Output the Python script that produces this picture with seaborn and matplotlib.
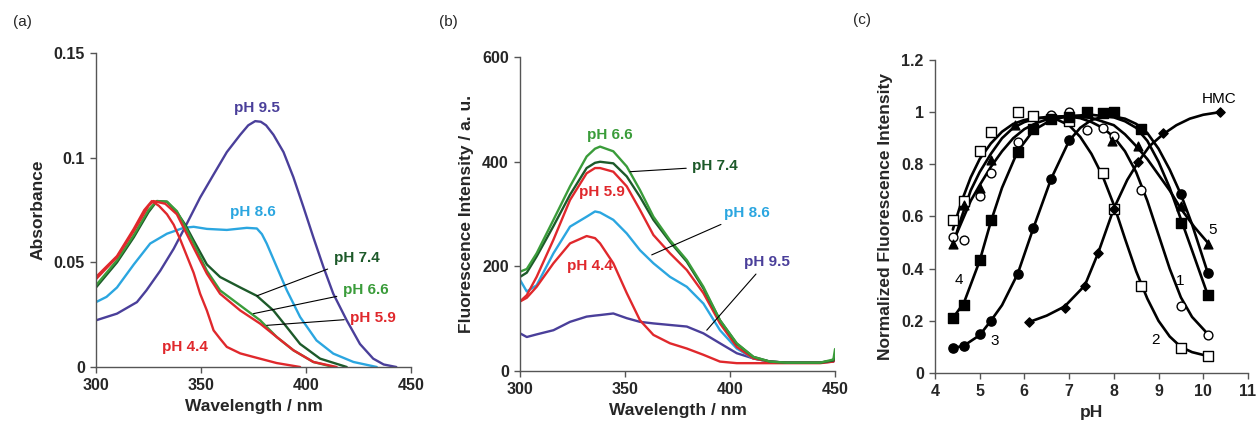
import matplotlib
matplotlib.use("Agg")
import matplotlib.pyplot as plt
import seaborn as sns

# ---------------- (a) absorbance spectra ----------------
abs_95_wl = [300, 310, 319.5, 324, 330.6, 337, 343, 349.6, 356, 362.3, 368.7, 372.5, 375.8, 378.5, 381, 384.5, 389.3, 394, 398.8, 403.5, 408.3, 413, 419.4, 425.7, 432, 437, 443]
abs_95 = [0.0223, 0.0255, 0.031, 0.0366, 0.046, 0.0565, 0.068, 0.081, 0.092, 0.1027, 0.111, 0.1155, 0.1175, 0.1172, 0.1155, 0.111, 0.1027, 0.0907, 0.0764, 0.062, 0.0478, 0.035, 0.0223, 0.011, 0.004, 0.0012, 0.0]

abs_86_wl = [300, 305, 310, 318, 325.8, 333.8, 341.7, 346.5, 352.8, 362.3, 371.8, 376.6, 379, 381.3, 386, 390.9, 397.2, 405, 413, 422.6, 433.7]
abs_86 = [0.031, 0.0335, 0.038, 0.049, 0.059, 0.0637, 0.0665, 0.067, 0.066, 0.0655, 0.0665, 0.0662, 0.0635, 0.059, 0.048, 0.0366, 0.0239, 0.0127, 0.0064, 0.0024, 0.0]

abs_74_wl = [300, 310, 318, 325, 329, 333.8, 338.5, 342.5, 346.5, 352.8, 359.1, 368.7, 376.6, 384.5, 390.9, 397.2, 406.7, 419.4]
abs_74 = [0.038, 0.05, 0.062, 0.074, 0.0793, 0.079, 0.074, 0.068, 0.0605, 0.049, 0.043, 0.038, 0.034, 0.027, 0.019, 0.011, 0.004, 0.0]

abs_66_wl = [300, 310, 318, 325, 329, 333.8, 338.5, 342.5, 346.5, 352.8, 359.1, 368.7, 378.2, 386.1, 394, 403.5, 413]
abs_66 = [0.039, 0.051, 0.063, 0.075, 0.0793, 0.079, 0.0745, 0.067, 0.059, 0.046, 0.0366, 0.0294, 0.0223, 0.0143, 0.008, 0.0024, 0.0]

abs_59_wl = [300, 310, 318, 325, 327.4, 333, 338.5, 342.5, 346.5, 352.8, 359.1, 368.7, 378.2, 386.1, 394, 403.5, 414.6]
abs_59 = [0.042, 0.0525, 0.065, 0.077, 0.0793, 0.078, 0.073, 0.065, 0.057, 0.0446, 0.035, 0.027, 0.0207, 0.0143, 0.008, 0.0024, 0.0]

abs_44_wl = [300, 310, 318, 323, 326.6, 330, 333.8, 337, 340.1, 343.3, 346.5, 349.6, 352.8, 356, 359.1, 362.3, 368.7, 375, 386, 397.2]
abs_44 = [0.043, 0.053, 0.066, 0.075, 0.0793, 0.077, 0.073, 0.068, 0.061, 0.053, 0.045, 0.035, 0.027, 0.0175, 0.0135, 0.0096, 0.0065, 0.0048, 0.0019, 0.0]

# ---------------- (b) fluorescence spectra ----------------
fl_wl = [300, 303.2, 307.9, 315.9, 323.8, 331.7, 335.7, 338.1, 344.4, 350.8, 357.1, 363.5, 371.4, 379.4, 387.3, 395.2, 403.2, 411.1, 419.0, 427.0, 442.9, 449.2, 450]
fl_66 = [190, 195, 225, 289, 353, 410, 425, 429, 420, 391, 346, 295, 250, 212, 161, 97, 53, 27, 18, 16, 16, 22, 42]
fl_74 = [180, 188, 219, 277, 337, 388, 398, 400, 397, 372, 333, 289, 247, 209, 158, 97, 52, 27, 18, 16, 16, 20, 30]
fl_59 = [133, 145, 180, 251, 327, 378, 388, 388, 381, 353, 308, 260, 225, 193, 149, 91, 46, 24, 18, 16, 16, 20, 30]
fl_86 = [174, 152, 164, 225, 276, 295, 305, 303, 289, 263, 231, 206, 180, 161, 129, 78, 43, 24, 18, 16, 16, 20, 28]
fl_44 = [133, 140, 161, 206, 244, 258, 254, 244, 206, 149, 97, 69, 53, 43, 31, 18, 15, 15, 15, 15, 15, 18, 25]
fl_95 = [72, 65, 70, 78, 94, 104, 106, 107, 110, 101, 94, 91, 88, 85, 72, 53, 34, 24, 18, 16, 16, 18, 25]

# ---------------- (c) pH profiles ----------------
s1_ph = [4.4, 4.65, 5.0, 5.25, 5.85, 6.6, 7.0, 7.4, 7.75, 8.0, 8.6, 9.5, 10.1]
s1_y = [0.52, 0.51, 0.68, 0.765, 0.885, 0.99, 1.0, 0.93, 0.94, 0.91, 0.70, 0.255, 0.145]
s2_ph = [4.4, 4.65, 5.0, 5.25, 5.85, 6.2, 7.0, 7.75, 8.0, 8.6, 9.5, 10.1]
s2_y = [0.585, 0.66, 0.85, 0.925, 1.0, 0.985, 0.965, 0.765, 0.63, 0.335, 0.095, 0.065]
s3_ph = [4.4, 4.65, 5.0, 5.25, 5.85, 6.2, 6.6, 7.0, 9.5, 10.1]
s3_y = [0.095, 0.105, 0.148, 0.2, 0.378, 0.555, 0.745, 0.892, 0.685, 0.385]
s4_ph = [4.4, 4.65, 5.0, 5.25, 5.85, 6.2, 6.6, 7.0, 7.4, 7.75, 8.0, 8.6, 9.5, 10.1]
s4_y = [0.21, 0.26, 0.435, 0.588, 0.848, 0.935, 0.972, 0.983, 1.0, 0.995, 1.0, 0.935, 0.575, 0.30]
s5_ph = [4.4, 4.65, 5.0, 5.25, 5.8, 7.95, 8.55, 9.5, 10.1]
s5_y = [0.495, 0.645, 0.71, 0.815, 0.95, 0.89, 0.87, 0.64, 0.495]
hmc_ph = [6.1, 6.9, 7.35, 7.65, 8.0, 8.55, 9.1, 10.37]
hmc_y = [0.195, 0.25, 0.335, 0.46, 0.63, 0.81, 0.92, 1.0]

# fitted curves as drawn in the figure
c1_ph = [4.4, 4.6, 4.8, 5.0, 5.25, 5.5, 5.75, 6.0, 6.25, 6.5, 6.75, 7.0, 7.25, 7.5, 7.75, 8.0, 8.25, 8.5, 8.75, 9.0, 9.25, 9.5, 9.75, 10.1]
c1_y = [0.50, 0.58, 0.66, 0.72, 0.79, 0.85, 0.90, 0.935, 0.957, 0.972, 0.981, 0.983, 0.977, 0.962, 0.94, 0.905, 0.85, 0.77, 0.66, 0.53, 0.4, 0.29, 0.215, 0.15]
c2_ph = [4.4, 4.6, 4.8, 5.0, 5.25, 5.5, 5.75, 6.0, 6.25, 6.5, 6.75, 7.0, 7.25, 7.5, 7.75, 8.0, 8.25, 8.5, 8.75, 9.0, 9.25, 9.5, 9.75, 10.1]
c2_y = [0.55, 0.66, 0.75, 0.82, 0.88, 0.925, 0.955, 0.97, 0.978, 0.978, 0.97, 0.95, 0.905, 0.84, 0.755, 0.645, 0.515, 0.39, 0.285, 0.2, 0.14, 0.1, 0.08, 0.065]
c3_ph = [4.4, 4.65, 5.0, 5.25, 5.5, 5.85, 6.2, 6.6, 7.0, 7.25, 7.5, 7.75, 8.0, 8.25, 8.5, 8.75, 9.0, 9.25, 9.5, 9.75, 10.1]
c3_y = [0.095, 0.105, 0.145, 0.2, 0.26, 0.38, 0.555, 0.745, 0.89, 0.94, 0.97, 0.982, 0.983, 0.975, 0.955, 0.92, 0.86, 0.78, 0.685, 0.57, 0.385]
c4_ph = [4.4, 4.65, 5.0, 5.25, 5.5, 5.85, 6.2, 6.6, 7.0, 7.5, 8.0, 8.25, 8.5, 8.75, 9.0, 9.25, 9.5, 9.75, 10.1]
c4_y = [0.21, 0.27, 0.43, 0.58, 0.71, 0.85, 0.93, 0.97, 0.985, 0.99, 0.98, 0.965, 0.94, 0.89, 0.81, 0.71, 0.59, 0.47, 0.30]
c5_ph = [4.4, 4.6, 4.8, 5.0, 5.25, 5.5, 5.75, 6.0, 6.25, 6.5, 7.0, 7.5, 8.0, 8.25, 8.5, 8.75, 9.0, 9.25, 9.5, 9.8, 10.1]
c5_y = [0.49, 0.60, 0.70, 0.77, 0.84, 0.90, 0.94, 0.962, 0.975, 0.982, 0.985, 0.978, 0.95, 0.915, 0.87, 0.82, 0.76, 0.70, 0.63, 0.56, 0.50]
chmc_ph = [6.1, 6.5, 6.9, 7.35, 7.65, 8.0, 8.3, 8.55, 8.8, 9.1, 9.4, 9.7, 10.0, 10.37]
chmc_y = [0.195, 0.22, 0.255, 0.335, 0.46, 0.63, 0.74, 0.81, 0.87, 0.915, 0.95, 0.975, 0.99, 1.0]

PURPLE = "#4a3f9a"
LBLUE = "#2ba6e0"
DGREEN = "#1d5a2a"
GREEN = "#3a9c3a"
RED = "#e0282c"

sns.set_style("ticks")
plt.rcParams["font.family"] = ["Liberation Sans", "DejaVu Sans"]
plt.rcParams["font.weight"] = "bold"
plt.rcParams["lines.solid_joinstyle"] = "round"

fig = plt.figure(figsize=(12.58, 4.23), dpi=100)
ax_a = fig.add_axes([0.0763, 0.1324, 0.2504, 0.742])
ax_b = fig.add_axes([0.4134, 0.1229, 0.2504, 0.742])
ax_c = fig.add_axes([0.7432, 0.1182, 0.2488, 0.740])


def style_axes(ax):
    for side in ["top", "right"]:
        ax.spines[side].set_visible(False)
    for side in ["left", "bottom"]:
        ax.spines[side].set_color("#555555")
        ax.spines[side].set_linewidth(1.0)
    ax.tick_params(direction="out", length=4, width=1, color="#555555",
                   labelsize=11.5, pad=4)
    for lab in ax.get_xticklabels() + ax.get_yticklabels():
        lab.set_fontweight("bold")


lw = 1.7
# panel (a)
for wl, vals, col in [(abs_95_wl, abs_95, PURPLE), (abs_86_wl, abs_86, LBLUE),
                      (abs_74_wl, abs_74, DGREEN), (abs_66_wl, abs_66, GREEN),
                      (abs_59_wl, abs_59, RED), (abs_44_wl, abs_44, RED)]:
    sns.lineplot(x=wl, y=vals, ax=ax_a, color=col, lw=lw, sort=False, estimator=None)
ax_a.set_xlim(300, 450)
ax_a.set_ylim(0, 0.15)
ax_a.set_xticks([300, 350, 400, 450])
ax_a.set_yticks([0, 0.05, 0.1, 0.15])
ax_a.set_yticklabels(["0", "0.05", "0.1", "0.15"])
ax_a.set_xlabel("Wavelength / nm", fontsize=12.5, fontweight="bold", labelpad=4)
ax_a.set_ylabel("Absorbance", fontsize=12.5, fontweight="bold", labelpad=6)
style_axes(ax_a)

tk = dict(fontsize=11, fontweight="bold", ha="center", va="center")
ax_a.text(376.6, 0.124, "pH 9.5", color=PURPLE, **tk)
ax_a.text(374.5, 0.074, "pH 8.6", color=LBLUE, **tk)
ax_a.text(342.2, 0.0096, "pH 4.4", color=RED, **tk)
arr = dict(arrowstyle="-", color="black", lw=0.8, shrinkA=2, shrinkB=0)
ax_a.annotate("pH 7.4", xy=(376.6, 0.034), xytext=(424, 0.052), color=DGREEN, arrowprops=arr, **tk)
ax_a.annotate("pH 6.6", xy=(375, 0.0255), xytext=(428.4, 0.0366), color=GREEN, arrowprops=arr, **tk)
ax_a.annotate("pH 5.9", xy=(381.3, 0.0199), xytext=(432, 0.0236), color=RED, arrowprops=arr, **tk)

# panel (b)
for vals, col in [(fl_95, PURPLE), (fl_86, LBLUE), (fl_44, RED), (fl_59, RED),
                  (fl_74, DGREEN), (fl_66, GREEN)]:
    sns.lineplot(x=fl_wl, y=vals, ax=ax_b, color=col, lw=lw, sort=False, estimator=None)
ax_b.set_xlim(300, 450)
ax_b.set_ylim(0, 600)
ax_b.set_xticks([300, 350, 400, 450])
ax_b.set_yticks([0, 200, 400, 600])
ax_b.set_xlabel("Wavelength / nm", fontsize=12.5, fontweight="bold", labelpad=4)
ax_b.set_ylabel("Fluorescence Intensity / a. u.", fontsize=12.5, fontweight="bold", labelpad=6)
style_axes(ax_b)

ax_b.text(342.9, 451, "pH 6.6", color=GREEN, **tk)
ax_b.text(338.9, 342, "pH 5.9", color=RED, **tk)
ax_b.text(333.3, 200, "pH 4.4", color=RED, **tk)
ax_b.annotate("pH 7.4", xy=(352.4, 381), xytext=(392.9, 391), color=DGREEN, arrowprops=arr, **tk)
ax_b.annotate("pH 8.6", xy=(362.7, 222), xytext=(408, 302), color=LBLUE, arrowprops=arr, **tk)
ax_b.annotate("pH 9.5", xy=(388.9, 78), xytext=(417.5, 209), color=PURPLE, arrowprops=arr, **tk)

# panel (c)
for cx, cy in [(c1_ph, c1_y), (c2_ph, c2_y), (c3_ph, c3_y), (c4_ph, c4_y),
               (c5_ph, c5_y), (chmc_ph, chmc_y)]:
    sns.lineplot(x=cx, y=cy, ax=ax_c, color="black", lw=1.9, sort=False, estimator=None)

mk = dict(ax=ax_c, edgecolor="black", linewidth=1.0, zorder=4, legend=False)
sns.scatterplot(x=s1_ph, y=s1_y, marker="o", s=40, color="white", **mk)
sns.scatterplot(x=s2_ph, y=s2_y, marker="s", s=44, color="white", **mk)
sns.scatterplot(x=s3_ph, y=s3_y, marker="o", s=44, color="black", **mk)
sns.scatterplot(x=s4_ph, y=s4_y, marker="s", s=46, color="black", **mk)
sns.scatterplot(x=s5_ph, y=s5_y, marker="^", s=40, color="black", **mk)
sns.scatterplot(x=hmc_ph, y=hmc_y, marker="D", s=22, color="black", **mk)

ax_c.set_xlim(4, 11)
ax_c.set_ylim(0, 1.2)
ax_c.set_xticks(range(4, 12))
ax_c.set_yticks([0, 0.2, 0.4, 0.6, 0.8, 1.0, 1.2])
ax_c.set_yticklabels(["0", "0.2", "0.4", "0.6", "0.8", "1", "1.2"])
ax_c.set_xlabel("pH", fontsize=12.5, fontweight="bold", labelpad=4)
ax_c.set_ylabel("Normalized Fluorescence Intensity", fontsize=12.5, fontweight="bold", labelpad=6)
style_axes(ax_c)

nk = dict(fontsize=11, fontweight="normal", ha="center", va="center", color="black")
ax_c.text(10.35, 1.05, "HMC", **nk)
ax_c.text(10.22, 0.549, "5", **nk)
ax_c.text(9.48, 0.351, "1", **nk)
ax_c.text(8.93, 0.125, "2", **nk)
ax_c.text(5.33, 0.121, "3", **nk)
ax_c.text(4.53, 0.355, "4", **nk)

fig.text(22 / 1258, 1 - 22 / 423, "(a)", fontsize=11, fontweight="normal", ha="center", va="center")
fig.text(448 / 1258, 1 - 22 / 423, "(b)", fontsize=11, fontweight="normal", ha="center", va="center")
fig.text(862 / 1258, 1 - 20 / 423, "(c)", fontsize=11, fontweight="normal", ha="center", va="center")

fig.savefig("out.png", dpi=100)
